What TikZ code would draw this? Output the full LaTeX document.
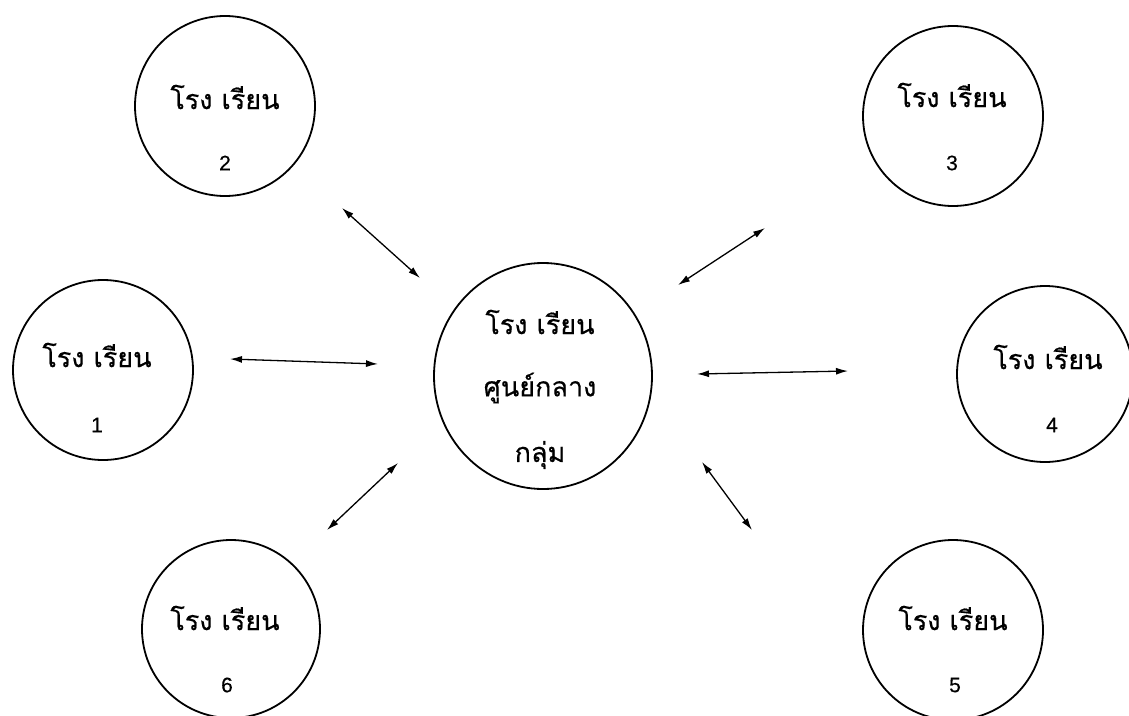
\documentclass[tikz,border=0pt]{standalone}
\usepackage{fontspec}
\newfontfamily\thaifont[Script=Thai,FakeBold=0.5]{Loma}
\newfontfamily\numfont[FakeBold=0.4]{Liberation Sans}
\usetikzlibrary{arrows.meta,shapes.geometric}
\tikzset{
  school/.style={draw, circle, line width=1.8pt, minimum size=180pt, inner sep=0pt},
  hubshape/.style={draw, ellipse, line width=1.8pt, minimum width=218pt, minimum height=226pt, inner sep=0pt},
  thtxt/.style={font=\thaifont\fontsize{27}{29}\selectfont, inner sep=0pt},
  numtxt/.style={font=\numfont\fontsize{21}{23}\selectfont, inner sep=0pt},
  link/.style={line width=1.3pt, {Latex[length=12pt,width=7pt]}-{Latex[length=12pt,width=7pt]}}
}
\begin{document}
\begin{tikzpicture}[x=1pt,y=-1pt]
\useasboundingbox (0,0) rectangle (1129,715);
\clip (0,0) rectangle (1129,715);
% circles
\node[school] (c2) at (225,106) {};
\node[school] (c1) at (103,370) {};
\node[school] (c3) at (953,116) {};
\node[school, minimum size=176pt] (c4) at (1045,374) {};
\node[school, minimum size=178pt] (c6) at (231,629) {};
\node[school] (c5) at (953,630) {};
\node[hubshape] (hub) at (543,376) {};
% texts
\node[thtxt] (t2) at (225,97) {โรง เรียน};
\node[numtxt] (n2) at (225,163) {2};
\node[thtxt] (t1) at (97,355) {โรง เรียน};
\node[numtxt] (n1) at (97,425) {1};
\node[thtxt] (t3) at (952,95) {โรง เรียน};
\node[numtxt] (n3) at (952,163) {3};
\node[thtxt] (t4) at (1048,357) {โรง เรียน};
\node[numtxt] (n4) at (1052,425) {4};
\node[thtxt] (t6) at (225,618) {โรง เรียน};
\node[numtxt] (n6) at (227,685) {6};
\node[thtxt] (t5) at (953,618) {โรง เรียน};
\node[numtxt] (n5) at (955,685) {5};
\node[thtxt] (h1) at (540,322) {โรง เรียน};
\node[thtxt] (h2) at (540,388) {ศูนย์กลาง};
\node[thtxt] (h3) at (540,455) {กลุ่ม};
% arrow ends
\coordinate (a2s) at (342,208); \coordinate (a2e) at (420,278);
\coordinate (a3s) at (678,285); \coordinate (a3e) at (765,228);
\coordinate (a1s) at (230,359); \coordinate (a1e) at (378,364);
\coordinate (a4s) at (697,374); \coordinate (a4e) at (848,371);
\coordinate (a6s) at (327,530); \coordinate (a6e) at (398,463);
\coordinate (a5s) at (702,462); \coordinate (a5e) at (752,530);
\draw[link] (a2s) -- (a2e);
\draw[link] (a3s) -- (a3e);
\draw[link] (a1s) -- (a1e);
\draw[link] (a4s) -- (a4e);
\draw[link] (a6s) -- (a6e);
\draw[link] (a5s) -- (a5e);
\end{tikzpicture}
\end{document}
